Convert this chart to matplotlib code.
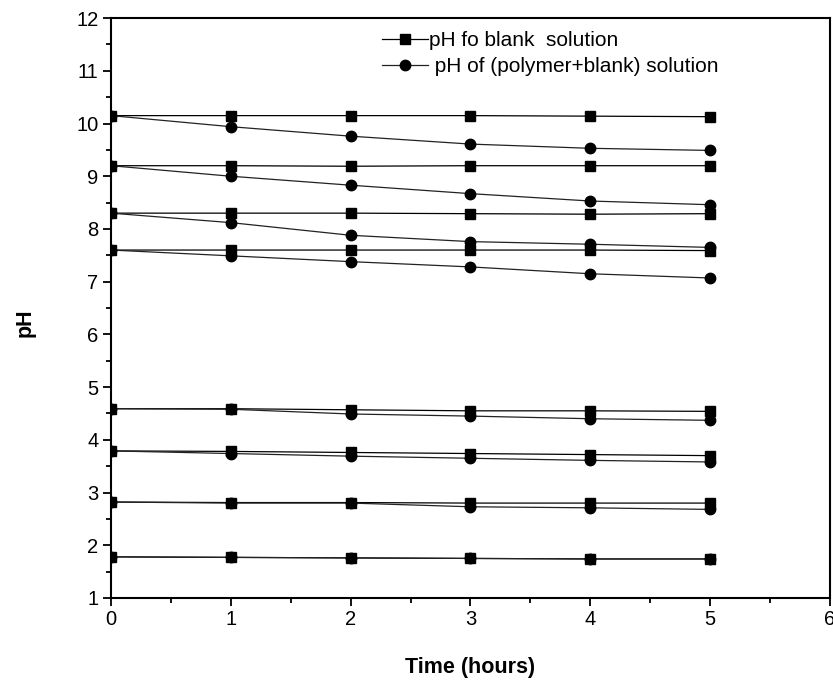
import numpy as np
from matplotlib import pyplot as plt
from matplotlib.ticker import MultipleLocator

plt.rcParams['font.family'] = ['Liberation Sans', 'DejaVu Sans']

time_h = [0, 1, 2, 3, 4, 5]

# pH of blank solutions (squares)
blank = [
    [10.15, 10.15, 10.15, 10.15, 10.14, 10.13],
    [9.20, 9.20, 9.19, 9.20, 9.20, 9.20],
    [8.30, 8.30, 8.30, 8.29, 8.28, 8.29],
    [7.60, 7.60, 7.60, 7.60, 7.60, 7.59],
    [4.59, 4.59, 4.57, 4.55, 4.55, 4.54],
    [3.79, 3.78, 3.76, 3.74, 3.72, 3.70],
    [2.82, 2.81, 2.81, 2.80, 2.80, 2.80],
    [1.78, 1.77, 1.76, 1.75, 1.74, 1.74],
]

# pH of (polymer + blank) solutions (circles)
polymer = [
    [10.15, 9.94, 9.76, 9.61, 9.53, 9.49],
    [9.20, 9.00, 8.83, 8.67, 8.53, 8.46],
    [8.30, 8.12, 7.88, 7.76, 7.71, 7.65],
    [7.60, 7.49, 7.38, 7.28, 7.15, 7.07],
    [4.59, 4.58, 4.49, 4.45, 4.40, 4.37],
    [3.79, 3.74, 3.69, 3.65, 3.61, 3.58],
    [2.82, 2.80, 2.80, 2.73, 2.71, 2.68],
    [1.78, 1.77, 1.76, 1.75, 1.74, 1.74],
]

fig = plt.figure(figsize=(8.33, 6.83), dpi=100)
ax = fig.add_axes([0.1333, 0.1245, 0.863, 0.849])

for i, ys in enumerate(blank):
    ax.plot(time_h, ys, '-s', color='black', lw=0.9, markersize=7,
            label='pH fo blank  solution' if i == 0 else None)
for i, ys in enumerate(polymer):
    ax.plot(time_h, ys, '-o', color='#222222', lw=0.9, markersize=7.5,
            markerfacecolor='black', markeredgecolor='black',
            label=' pH of (polymer+blank) solution' if i == 0 else None)

ax.set_xlim(0, 6)
ax.set_ylim(1, 12)
ax.xaxis.set_major_locator(MultipleLocator(1))
ax.xaxis.set_minor_locator(MultipleLocator(0.5))
ax.yaxis.set_major_locator(MultipleLocator(1))
ax.yaxis.set_minor_locator(MultipleLocator(0.5))
ax.tick_params(which='major', direction='out', length=6, width=1.3, labelsize=14.5, pad=3)
ax.tick_params(which='minor', direction='out', length=3.5, width=1.3)
ax.tick_params(top=False, right=False, which='both')
for s in ax.spines.values():
    s.set_linewidth(1.5)

ax.set_xlabel('Time (hours)', fontsize=15.5, fontweight='bold', labelpad=20)
ax.set_ylabel('pH', fontsize=15.5, fontweight='bold')
ax.yaxis.set_label_coords(-0.105, 0.475)

ax.legend(loc='upper left', bbox_to_anchor=(0.377, 0.978), frameon=False,
          fontsize=15, handlelength=2.2, handletextpad=0.05, labelspacing=0.35,
          borderaxespad=0, borderpad=0)

plt.savefig('out.png', dpi=100)
